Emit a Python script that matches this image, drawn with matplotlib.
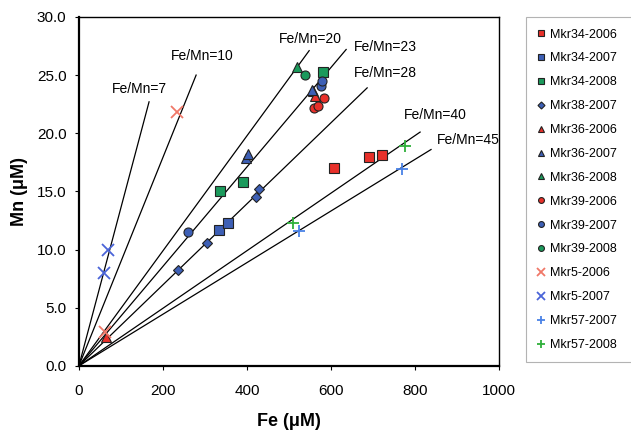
import matplotlib.pyplot as plt

plt.rcParams['font.family'] = ['Liberation Sans', 'DejaVu Sans']

# Reference lines (Fe/Mn ratios), end point of each drawn segment
line_labels = ['Fe/Mn=7', 'Fe/Mn=10', 'Fe/Mn=20', 'Fe/Mn=23', 'Fe/Mn=28', 'Fe/Mn=40', 'Fe/Mn=45']
line_end_fe = [167, 279, 548, 636, 686, 812, 838]
line_end_mn = [22.7, 25.0, 27.1, 27.2, 23.9, 20.1, 18.6]
label_fe = [145, 293, 550, 729, 729, 848, 926]
label_mn = [23.8, 26.6, 28.1, 27.4, 25.2, 21.6, 19.4]

# Samples
series = ['Mkr34-2006', 'Mkr34-2007', 'Mkr34-2008', 'Mkr38-2007', 'Mkr36-2006',
          'Mkr36-2007', 'Mkr36-2008', 'Mkr39-2006', 'Mkr39-2007', 'Mkr39-2008',
          'Mkr5-2006', 'Mkr5-2007', 'Mkr57-2007', 'Mkr57-2008']
fe = [
    [608, 690, 722],
    [333, 355],
    [336, 390, 581],
    [235, 305, 421, 429],
    [64, 558, 563],
    [398, 402, 555],
    [519],
    [560, 569, 583],
    [260, 576, 579],
    [538],
    [233, 62],
    [69, 60],
    [769, 524],
    [776, 510],
]
mn = [
    [17.0, 18.0, 18.1],
    [11.7, 12.3],
    [15.0, 15.8, 25.3],
    [8.2, 10.6, 14.5, 15.2],
    [2.5, 23.6, 23.2],
    [17.9, 18.2, 23.7],
    [25.7],
    [22.2, 22.3, 23.0],
    [11.5, 24.1, 24.5],
    [25.0],
    [21.8, 2.9],
    [10.0, 8.0],
    [16.9, 11.6],
    [18.9, 12.3],
]

red = '#e8302a'
blue = '#3d5fb5'
green = '#1b9a5c'
styles = [
    ('s', red), ('s', blue), ('s', green), ('D', blue), ('^', red),
    ('^', blue), ('^', green), ('o', red), ('o', blue), ('o', green),
    ('x', '#f07868'), ('x', '#4a64d8'), ('+', '#4a82e6'), ('+', '#2fb03a'),
]

fig = plt.figure(figsize=(6.31, 4.34), dpi=100)
ax = fig.add_axes([0.125, 0.157, 0.666, 0.804])

for xe, ye in zip(line_end_fe, line_end_mn):
    ax.plot([0, xe], [0, ye], color='black', linewidth=0.9, zorder=1)
for lab, lx, ly in zip(line_labels, label_fe, label_mn):
    ax.text(lx, ly, lab, fontsize=10, ha='center', va='center', clip_on=False)

handles = []
for name, xs, ys, (m, c) in zip(series, fe, mn, styles):
    if m in ('x', '+'):
        h, = ax.plot(xs, ys, linestyle='none', marker=m, color=c, markersize=8,
                     markeredgewidth=1.3, label=name, zorder=3)
    else:
        size = 5.5 if m == 'D' else 6.5
        h, = ax.plot(xs, ys, linestyle='none', marker=m, markerfacecolor=c,
                     markeredgecolor='#222222', markeredgewidth=0.8,
                     markersize=size, label=name, zorder=3)
    handles.append(h)

ax.set_xlim(0, 1000)
ax.set_ylim(0, 30)
ax.set_xticks([0, 200, 400, 600, 800, 1000])
ax.set_yticks([0, 5, 10, 15, 20, 25, 30])
ax.set_yticklabels(['0.0', '5.0', '10.0', '15.0', '20.0', '25.0', '30.0'])
ax.tick_params(labelsize=11, direction='out', length=3, width=0.8)
ax.tick_params(axis='x', pad=10)
ax.tick_params(axis='y', pad=6)
ax.set_xlabel('Fe (\u03bcM)', fontsize=13, fontweight='bold', labelpad=11)
ax.set_ylabel('Mn (\u03bcM)', fontsize=13, fontweight='bold', labelpad=6)
for side in ['left', 'bottom']:
    ax.spines[side].set_linewidth(1.6)
for side in ['top', 'right']:
    ax.spines[side].set_linewidth(1.0)

leg = fig.legend(handles=handles, loc='upper left',
                 bbox_to_anchor=(0.834, 0.168, 0.2, 0.792), mode='expand',
                 fontsize=9, markerscale=0.65, labelspacing=0.95, handlelength=0.6,
                 handletextpad=0.4, borderpad=0.9, frameon=True, fancybox=False,
                 borderaxespad=0)
leg.get_frame().set_edgecolor('#a0a0a0')
leg.get_frame().set_linewidth(0.8)

fig.savefig('out.png', dpi=100)
